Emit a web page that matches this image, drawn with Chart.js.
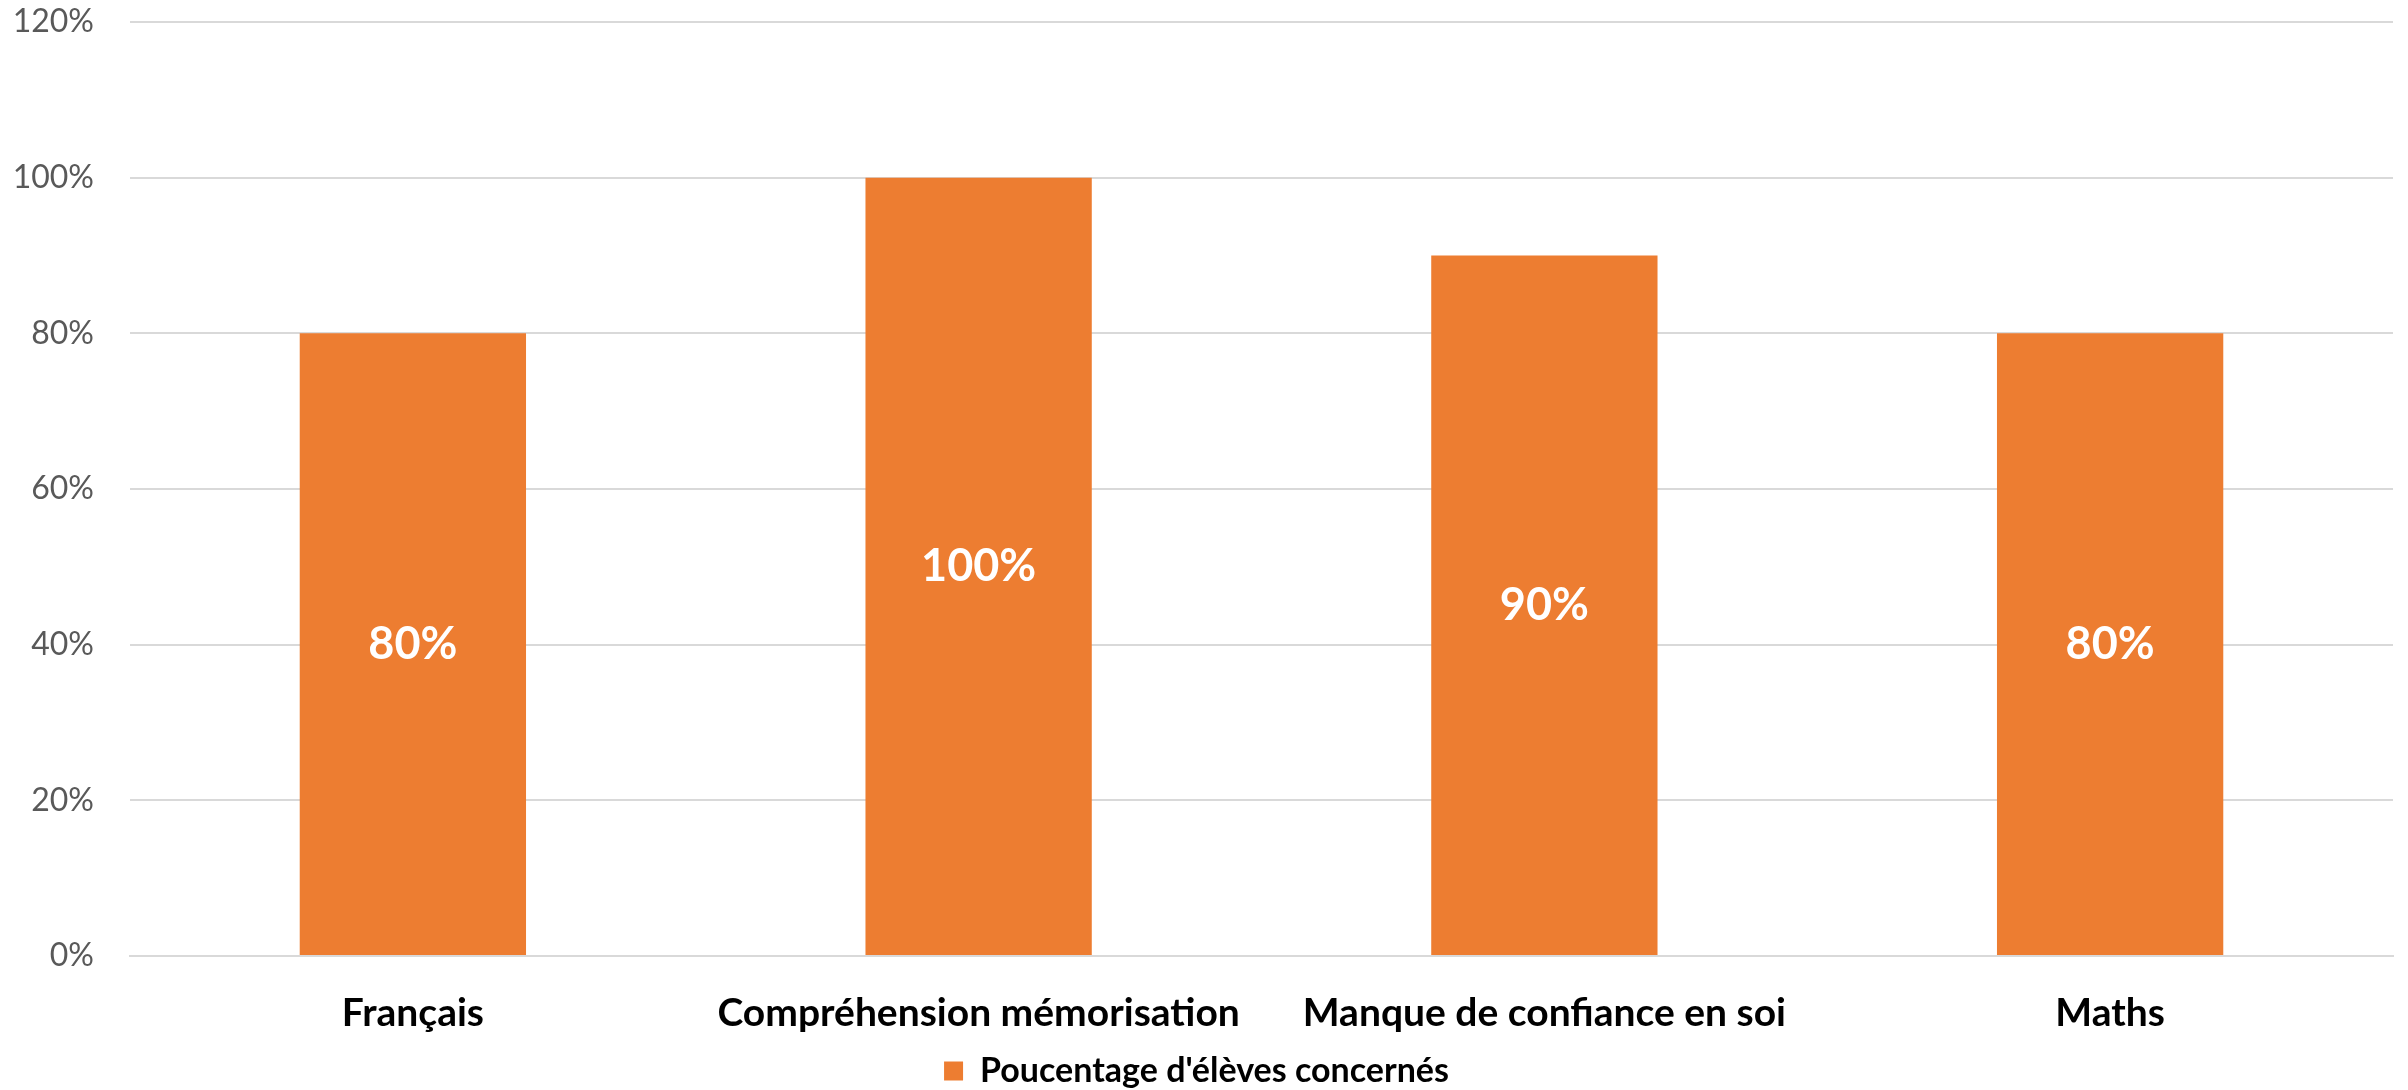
<!DOCTYPE html>
<html lang="fr">
  <head>
    <meta charset="UTF-8" />
    <title>Poucentage d'élèves concernés</title>
    <script src="https://cdn.jsdelivr.net/npm/chart.js"></script>
    <style>
      html, body { margin: 0; padding: 0; background: #fff; }
      #wrap { width: 2408px; height: 1090px; }
    </style>
  </head>
  <body>
    <div id="wrap"><canvas id="myChart"></canvas></div>
    <script>
// données
const categories = ["Français", "Compréhension mémorisation", "Manque de confiance en soi", "Maths"];
const pourcentages = [80, 100, 90, 80];
const serieLabel = "Poucentage d'élèves concernés";
const yTicks = [0, 20, 40, 60, 80, 100, 120];

// étiquettes blanches au milieu des barres
const etiquettes = {
  id: "etiquettes",
  afterDatasetsDraw(chart) {
    const ctx = chart.ctx;
    const meta = chart.getDatasetMeta(0);
    ctx.save();
    ctx.fillStyle = "#fff";
    ctx.font = "bold 45px Lato";
    ctx.textAlign = "center";
    ctx.textBaseline = "middle";
    meta.data.forEach((bar, i) => {
      const y = (bar.y + bar.base) / 2;
      ctx.fillText(pourcentages[i] + "%", bar.x, y);
    });
    ctx.restore();
  }
};

new Chart(document.getElementById("myChart"), {
  type: "bar",
  data: {
    labels: categories,
    datasets: [{
      label: serieLabel,
      data: pourcentages,
      backgroundColor: "#ED7D31",
      barPercentage: 0.4,
      categoryPercentage: 1
    }]
  },
  options: {
    responsive: true,
    maintainAspectRatio: false,
    animation: false,
    layout: { padding: { top: 22, right: 15, bottom: -8, left: 0 } },
    scales: {
      y: {
        min: 0,
        max: 120,
        afterBuildTicks: s => { s.ticks = yTicks.map(v => ({ value: v })); },
        afterFit: s => { s.width = 130; s.paddingTop = 0; s.paddingBottom = 0; },
        border: { display: false },
        grid: { color: "#D9D9D9", lineWidth: 2, drawTicks: false },
        ticks: {
          padding: 36,
          color: "#595959",
          font: { family: "Lato", size: 32 },
          callback: v => v + "%"
        }
      },
      x: {
        afterFit: s => { s.height = 98; },
        border: { color: "#D9D9D9", width: 2 },
        grid: { display: false, drawTicks: false },
        ticks: {
          padding: 34,
          color: "#000",
          maxRotation: 0,
          font: { family: "Lato", size: 39, weight: "bold" }
        }
      }
    },
    plugins: {
      legend: {
        position: "bottom",
        labels: {
          boxWidth: 19,
          boxHeight: 19,
          padding: 0,
          color: "#000",
          font: { family: "Lato", size: 34, weight: "bold" }
        }
      },
      tooltip: { enabled: false }
    }
  },
  plugins: [etiquettes]
});
    </script>
  </body>
</html>
